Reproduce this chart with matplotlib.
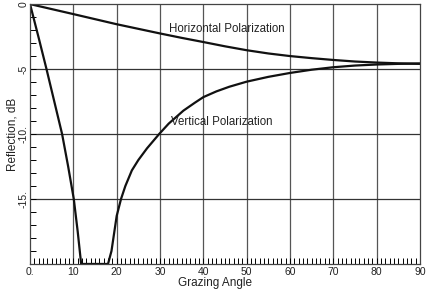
import numpy as np
import matplotlib
matplotlib.use('Agg')
import matplotlib.pyplot as plt
from matplotlib.ticker import MultipleLocator

plt.rcParams['font.family'] = ['Liberation Sans', 'DejaVu Sans']

# dados
ang_h = [0, 10, 20, 30, 35, 40, 45, 50, 55, 60, 65, 70, 75, 80, 85, 90]
refl_h = [0, -0.77, -1.55, -2.26, -2.6, -2.92, -3.25, -3.55, -3.8, -4.0, -4.16, -4.3, -4.42,
          -4.5, -4.56, -4.6]

ang_v = [0, 2, 3.8, 5.6, 7.4, 8.8, 10.1, 11, 11.8, 18, 18.8, 20, 21, 22, 23.5, 25, 27, 29.8,
         32, 35.4, 38, 40, 43, 46, 50, 55, 60, 65, 70, 75, 80, 85, 90]
refl_v = [0, -2.6, -5, -7.5, -10, -12.5, -15, -17.5, -20, -20, -19, -16.3, -15, -14.0, -12.8,
          -12.0, -11.1, -10, -9.2, -8.2, -7.6, -7.16, -6.72, -6.36, -5.97, -5.6, -5.3, -5.05,
          -4.86, -4.73, -4.65, -4.6, -4.57]

x_ticks = [0, 10, 20, 30, 40, 50, 60, 70, 80, 90]
x_labels = ['0.', '10', '20', '30', '40', '50', '60', '70', '80', '90']
y_ticks = [0, -5, -10, -15]
y_labels = ['0', '-5', '-10.', '-15.']

fig = plt.figure(figsize=(4.29, 2.92), dpi=100)
ax = fig.add_axes([0.07, 0.096, 0.909, 0.89])

ax.plot(ang_h, refl_h, color='#111111', lw=1.6)
ax.plot(ang_v, refl_v, color='#111111', lw=1.6)

ax.set_xlim(0, 90)
ax.set_ylim(-20, 0)

# grade
for x in x_ticks[1:-1]:
    ax.axvline(x, color='#555555', lw=0.9, zorder=0)
for y in y_ticks[1:]:
    ax.axhline(y, color='#333333', lw=0.9, zorder=0)

ax.set_xticks(x_ticks)
ax.set_xticklabels(x_labels, fontsize=7.5, color='#222222')
ax.set_yticks(y_ticks)
ax.set_yticklabels(y_labels, fontsize=7.5, color='#222222', rotation=90, va='center')
ax.xaxis.set_minor_locator(MultipleLocator(1))
ax.yaxis.set_minor_locator(MultipleLocator(1))
ax.tick_params(axis='x', which='both', direction='in', length=4, width=0.7, pad=2, top=False)
ax.tick_params(axis='y', which='both', direction='in', length=4, width=0.7, pad=1, right=False)

for s in ax.spines.values():
    s.set_color('#444444')
    s.set_linewidth(0.9)

ax.set_xlabel('Grazing Angle', fontsize=8.5, color='#222222')
ax.xaxis.set_label_coords(0.475, -0.05)
ax.set_ylabel('Reflection, dB', fontsize=8.5, color='#222222')
ax.yaxis.set_label_coords(-0.03, 0.5)

ax.text(32, -1.95, 'Horizontal Polarization', fontsize=8.3, color='#222222', va='center')
ax.text(32.5, -9.1, 'Vertical Polarization', fontsize=8.3, color='#222222', va='center')

fig.savefig('out.png', dpi=100)
